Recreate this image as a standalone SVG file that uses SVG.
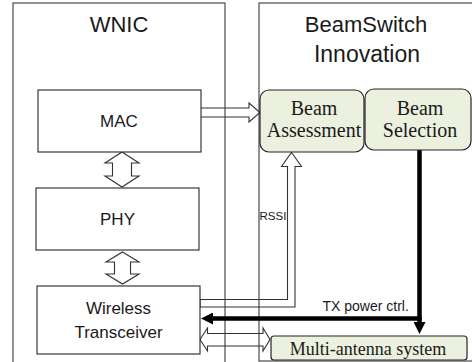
<svg xmlns="http://www.w3.org/2000/svg" width="472" height="362" viewBox="0 0 472 362">
<style>
.container{fill:none;stroke:#4a4a4a;stroke-width:1.2}
.box{fill:#fff;stroke:#262626;stroke-width:1.1}
.beam{fill:#ecf0df;stroke:#262626;stroke-width:1.2}
.sans{font-family:"Liberation Sans",Arial,sans-serif;fill:#1a1a1a}
.serif{font-family:"Liberation Serif","Times New Roman",serif;fill:#1a1a1a}
.hollow{fill:none;stroke:#333;stroke-width:1.1;stroke-linejoin:miter}
.thick{fill:none;stroke:#000;stroke-width:4.5}
</style>
<defs>
<marker id="head" viewBox="0 -6 12 12" refX="0" refY="0" markerWidth="12" markerHeight="12" markerUnits="userSpaceOnUse" orient="auto">
<path d="M0,-6 L12,0 L0,6 Z" fill="#000"/>
</marker>
</defs>

<g id="wnic">
<rect class="container" x="13" y="3" width="212" height="362"/>
<text class="sans" x="119" y="32" font-size="22" text-anchor="middle">WNIC</text>
</g>

<g id="beamswitch">
<rect class="container" x="259" y="3" width="214" height="358"/>
<text class="sans" x="366" y="32" font-size="22" text-anchor="middle">BeamSwitch</text>
<text class="sans" x="367" y="62" font-size="23" text-anchor="middle">Innovation</text>
</g>

<g id="connectors">
<!-- MAC to Beam Assessment -->
<path class="hollow" d="M201,108 H249 V103 L260,112.5 L249,122 V117 H201"/>
<!-- MAC - PHY -->
<path class="hollow" d="M122,152 L139,163 H131.5 V176 H139 L122,187 L105,176 H112.5 V163 H105 Z"/>
<!-- PHY - Transceiver -->
<path class="hollow" d="M122.5,252 L139,262 H130.5 V274 H139 L122.5,284 L106,274 H114.5 V262 H106 Z"/>
<!-- RSSI: Transceiver to Beam Assessment -->
<path class="hollow" stroke="#555" d="M291.5,152.5 L301.5,166.5 H295 V307 H200 V299.5 H287.5 V166.5 H281.5 Z"/>
<text class="sans" x="259.5" y="220" font-size="11.5">RSSI</text>
<!-- Transceiver - Multi-antenna -->
<path class="hollow" d="M200,339.5 L207.5,328 V333.5 H263 V328 L270,339.5 L263,351 V346 H207.5 V351 Z"/>
<!-- Beam Selection to Multi-antenna and Transceiver -->
<path class="thick" d="M419.5,150 V322" marker-end="url(#head)"/>
<path class="thick" d="M421.7,318.5 H213" marker-end="url(#head)"/>
<text class="sans" x="322.5" y="311" font-size="14">TX power ctrl.</text>
</g>

<g id="mac">
<rect class="box" x="38" y="90" width="163" height="62"/>
<text class="sans" x="119" y="127" font-size="17" text-anchor="middle">MAC</text>
</g>

<g id="phy">
<rect class="box" x="36" y="188" width="163" height="62"/>
<text class="sans" x="117.5" y="225" font-size="17" text-anchor="middle">PHY</text>
</g>

<g id="transceiver">
<rect class="box" x="37" y="286" width="163" height="68"/>
<text class="sans" x="118.5" y="314" font-size="17" text-anchor="middle">Wireless</text>
<text class="sans" x="118.5" y="338" font-size="17" text-anchor="middle">Transceiver</text>
</g>

<g id="beam-assessment">
<rect class="beam" x="260" y="90" width="104" height="62" rx="9"/>
<text class="serif" x="314" y="115" font-size="20" text-anchor="middle">Beam</text>
<text class="serif" x="314" y="137" font-size="20" text-anchor="middle">Assessment</text>
</g>

<g id="beam-selection">
<rect class="beam" x="365" y="89" width="106" height="61" rx="9"/>
<text class="serif" x="420" y="115" font-size="20" text-anchor="middle">Beam</text>
<text class="serif" x="420" y="137" font-size="20" text-anchor="middle">Selection</text>
</g>

<g id="multi-antenna">
<rect class="beam" x="271" y="336" width="196" height="24" rx="3"/>
<text class="serif" x="368" y="355" font-size="18" text-anchor="middle">Multi-antenna system</text>
</g>
</svg>
